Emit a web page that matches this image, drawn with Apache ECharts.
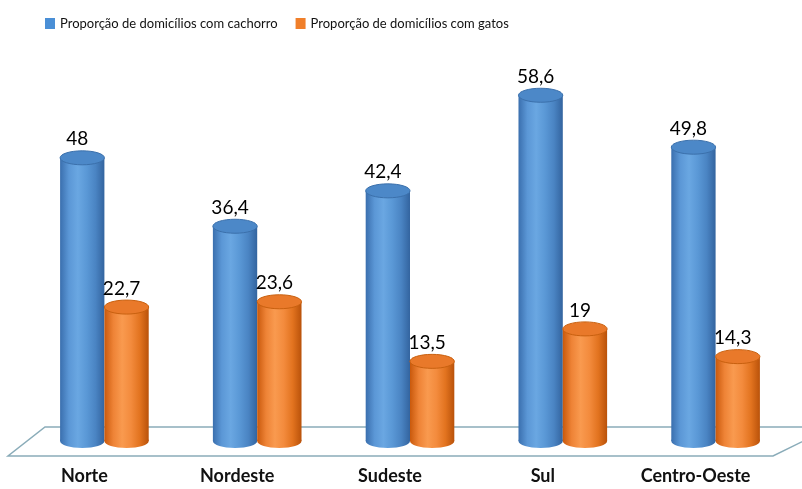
<!DOCTYPE html>
<html>
<head>
<meta charset="utf-8">
<script src="https://cdn.jsdelivr.net/npm/echarts@6/dist/echarts.min.js"></script>
<style>
  html, body { margin: 0; padding: 0; background: #fff; }
  #chart { width: 802px; height: 489px; }
</style>
</head>
<body>
<div id="chart"></div>
<script>
var regioes = ['Norte', 'Nordeste', 'Sudeste', 'Sul', 'Centro-Oeste'];
var cachorro = [48, 36.4, 42.4, 58.6, 49.8];
var gatos = [22.7, 23.6, 13.5, 19, 14.3];
var nomes = ['Proporção de domicílios com cachorro', 'Proporção de domicílios com gatos'];

var FONT = 'Lato, "Open Sans", sans-serif';

function grad(stops) {
	return new echarts.graphic.LinearGradient(0, 0, 1, 0, stops.map(function (c, i) {
		return { offset: i / (stops.length - 1), color: c };
	}));
}

var estilos = [
	{
		corpo: ['#3a6fae', '#5b97d6', '#6aa7e2', '#5a98d6', '#4a84c3', '#33649f'],
		topo: '#4c88c8',
		borda: '#3b70ab'
	},
	{
		corpo: ['#c9590c', '#ee8336', '#f99a4f', '#f38b3d', '#e2731f', '#b9520a'],
		topo: '#e9792a',
		borda: '#c8600f'
	}
];

function cilindro(lado) {
	return function (params, api) {
		var idx = api.value(0);
		var v = api.value(1);
		var top = api.coord([idx, v]);
		var base = api.coord([idx, 0]);
		var band = api.size([1, 0])[0];
		var rx = band * 0.145;
		var ry = 7;
		var cx = top[0] + lado * rx;
		var e = estilos[lado < 0 ? 0 : 1];
		var g = grad(e.corpo);
		return {
			type: 'group',
			children: [
				{ type: 'ellipse', shape: { cx: cx, cy: base[1], rx: rx, ry: ry }, style: { fill: g } },
				{ type: 'rect', shape: { x: cx - rx, y: top[1], width: rx * 2, height: base[1] - top[1] }, style: { fill: g } },
				{ type: 'ellipse', shape: { cx: cx, cy: top[1], rx: rx, ry: ry }, style: { fill: e.topo, stroke: e.borda, lineWidth: 1 } },
				{
					type: 'text',
					style: {
						text: String(v).replace('.', ','),
						x: cx - 5, y: top[1] - ry - 2,
						align: 'center', verticalAlign: 'bottom',
						font: '19px ' + FONT, fill: '#000'
					}
				}
			]
		};
	};
}

// piso em perspectiva, desenhado a partir da área do grid
function piso(params, api) {
	var cs = params.coordSys;
	var y0 = cs.y + cs.height;
	var pts = [
		[cs.x + 17, y0 - 14],
		[cs.x + cs.width + 40, y0 - 14],
		[cs.x + cs.width - 19, y0 + 15],
		[cs.x - 20, y0 + 15]
	];
	return {
		type: 'polygon',
		shape: { points: pts },
		style: { fill: '#ffffff', stroke: '#8aacb9', lineWidth: 1.5 }
	};
}

var chart = echarts.init(document.getElementById('chart'));
chart.setOption({
	animation: false,
	legend: {
		data: [
			{ name: nomes[0], itemStyle: { color: '#4a8fd6' } },
			{ name: nomes[1], itemStyle: { color: '#f07f2a' } }
		],
		left: 40, top: 12,
		icon: 'rect', itemWidth: 10, itemHeight: 11, itemGap: 18,
		textStyle: { fontFamily: FONT, fontSize: 13, color: '#111' }
	},
	grid: { left: 28, right: 10, top: 57.5, bottom: 48, containLabel: false },
	xAxis: {
		type: 'category',
		data: regioes,
		axisLine: { show: false },
		axisTick: { show: false },
		axisLabel: {
			margin: 26,
			padding: [0, 40, 0, 0],
			fontFamily: FONT, fontWeight: 'bold', fontSize: 18, color: '#111'
		}
	},
	yAxis: { type: 'value', min: 0, max: 65, show: false },
	series: [
		{
			type: 'custom', name: 'piso', silent: true, z: 1,
			renderItem: piso, data: [[0, 0]]
		},
		{
			type: 'custom', name: nomes[0], z: 2,
			renderItem: cilindro(-1),
			data: cachorro.map(function (v, i) { return [i, v]; })
		},
		{
			type: 'custom', name: nomes[1], z: 3,
			renderItem: cilindro(1),
			data: gatos.map(function (v, i) { return [i, v]; })
		}
	]
});
</script>
</body>
</html>
